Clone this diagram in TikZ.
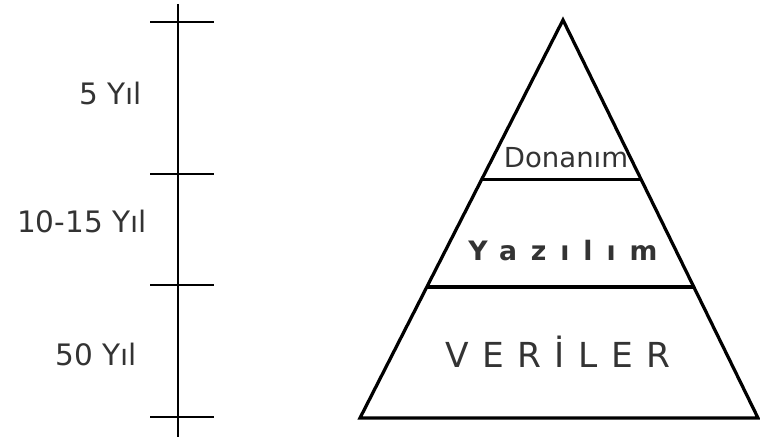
\documentclass[tikz,border=0pt]{standalone}
\usepackage{fontspec}
\setmainfont{DejaVu Sans}
\usepackage{tikz}
\usetikzlibrary{calc}

\begin{document}
\begin{tikzpicture}

% Colori
\definecolor{textGray}{HTML}{333333}

\tikzset{
  tacca/.style={line width=1.5pt},
  bordo/.style={line width=2.3pt, line join=miter},
  etichetta/.style={inner sep=0pt, text=textGray, font=\fontsize{21}{25}\selectfont},
  strato/.style={inner sep=0pt, text=textGray},
}

% Cornice
\useasboundingbox (0,0) rectangle (19,11.025);

% Asse del tempo
\coordinate (asseTop) at (4.45,10.925);
\coordinate (asseBot) at (4.45,0.1);
\draw[tacca] (asseTop) -- (asseBot);

% Tacche
\foreach \y/\n in {10.475/1, 6.675/2, 3.9/3, 0.6/4} {
  \coordinate (tsx\n) at (3.75,\y);
  \coordinate (tdx\n) at (5.35,\y);
  \draw[tacca] (tsx\n) -- (tdx\n);
}

% Etichette degli intervalli
\node[etichetta, anchor=base east] (anni5) at (3.55,8.4) {5 Yıl};
\node[etichetta, anchor=base east] (anni10) at (3.675,5.2) {10-15 Yıl};
\node[etichetta, anchor=base east] (anni50) at (3.425,1.9) {50 Yıl};

% Piramide
\coordinate (apice) at (14.075,10.525);
\coordinate (bassoSx) at (9.0,0.575);
\coordinate (bassoDx) at (18.95,0.575);
\draw[bordo] (apice) -- (bassoSx) -- (bassoDx) -- cycle;

% Divisioni interne
\coordinate (d1sx) at ($(apice)!0.4!(bassoSx)$);
\coordinate (d1dx) at ($(apice)!0.4!(bassoDx)$);
\coordinate (d2sx) at ($(apice)!0.671!(bassoSx)$);
\coordinate (d2dx) at ($(apice)!0.671!(bassoDx)$);
\draw[bordo] (d1sx) -- (d1dx);
\draw[bordo] (d2sx) -- (d2dx);

% Strati
\node[strato, anchor=base, font=\fontsize{19.6}{23}\selectfont] (donanim) at (14.15,6.825) {Donanım};
\node[strato, anchor=base west, font=\fontsize{19}{23}\selectfont\bfseries\addfontfeature{LetterSpace=52}] (yazilim) at (11.7,4.5) {Yazılım};
\node[strato, anchor=base west, font=\fontsize{24.5}{29}\selectfont\addfontfeature{LetterSpace=39}] (veriler) at (11.125,1.85) {VERİLER};

\end{tikzpicture}
\end{document}
